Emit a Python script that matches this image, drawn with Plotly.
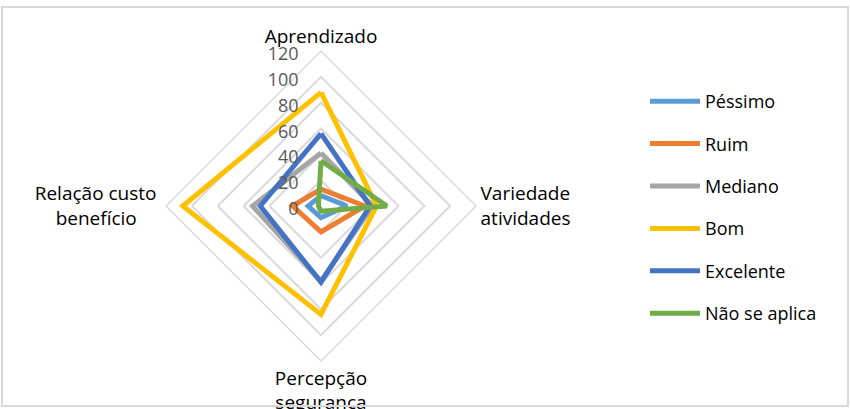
import plotly.graph_objects as go

NB = "\u00a0"
categories = ["Aprendizado", "Variedade<br>atividades", "Percepção<br>segurança",
              "Relação custo" + NB + "<br>benefício" + NB * 5]

pessimo = [8, 20, 9, 10]
ruim = [13, 34, 20, 22]
mediano = [41, 40, 58, 53]
bom = [88, 43, 84, 107]
excelente = [56, 38, 59, 47]
nao_se_aplica = [35, 51, 4, 2]

series = [
    ("Péssimo", pessimo, "#5B9BD5"),
    ("Ruim", ruim, "#ED7D31"),
    ("Mediano", mediano, "#A5A5A5"),
    ("Bom", bom, "#FFC000"),
    ("Excelente", excelente, "#4472C4"),
    ("Não se aplica", nao_se_aplica, "#70AD47"),
]

fig = go.Figure()
for name, vals, color in series:
    fig.add_trace(go.Scatterpolar(
        r=vals + vals[:1],
        theta=categories + categories[:1],
        name=name,
        legendgroup=name,
        mode="lines",
        line=dict(color=color, width=5),
    ))

W, H = 850, 409
cx, cy, rad = 321, 206, 155

fig.update_layout(
    width=W, height=H,
    margin=dict(l=0, r=0, t=0, b=0),
    paper_bgcolor="white",
    plot_bgcolor="white",
    font=dict(family="Open Sans", color="black"),
    polar=dict(
        domain=dict(x=[(cx - rad) / W, (cx + rad) / W],
                    y=[(H - cy - rad) / H, (H - cy + rad) / H]),
        bgcolor="white",
        gridshape="linear",
        radialaxis=dict(
            range=[0, 120], dtick=20, angle=90, side="counterclockwise",
            showline=False, ticks="", gridcolor="#D9D9D9", gridwidth=1.5,
            ticksuffix=NB * 2,
            tickfont=dict(size=18, color="#595959"),
        ),
        angularaxis=dict(
            rotation=90, direction="clockwise",
            showgrid=False, showline=True, linecolor="#D9D9D9", linewidth=1.5,
            ticks="", tickfont=dict(size=19, color="black"),
        ),
    ),
    legend=dict(
        x=645 / W, y=1 - 83 / H, xanchor="left", yanchor="top",
        font=dict(size=18, color="black"),
        tracegroupgap=16,
        itemwidth=50,
        bgcolor="rgba(0,0,0,0)",
    ),
)

fig.add_shape(type="rect", xref="paper", yref="paper",
              x0=2 / W, x1=848 / W, y0=3 / H, y1=402 / H,
              line=dict(color="#D9D9D9", width=2))

fig.write_html("out.html", config={"displayModeBar": False},
               post_script="document.body.style.margin='0';")
